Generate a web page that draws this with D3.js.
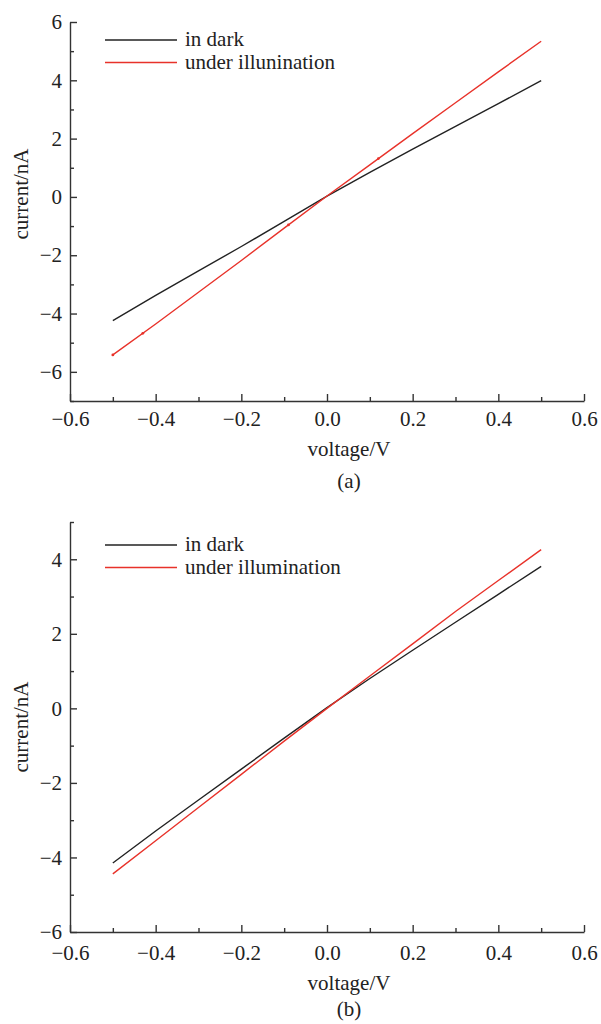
<!DOCTYPE html>
<html>
<head>
<meta charset="utf-8">
<script src="https://cdn.jsdelivr.net/npm/d3@7"></script>
<style>
  body { margin: 0; background: #fff; }
  svg text { font-family: "Liberation Serif", "Times New Roman", serif; fill: #222; }
</style>
</head>
<body>
<svg id="chart" width="601" height="1024"></svg>
<script>
// sweep voltages (V)
const voltage = [-0.5, -0.4, -0.3, -0.2, -0.1, 0, 0.1, 0.2, 0.3, 0.4, 0.5];
// panel (a) currents (nA)
const darkA  = [-4.24, -3.38, -2.54, -1.70, -0.84, 0.03, 0.84, 1.64, 2.42, 3.20, 3.99];
const lightA = [-5.42, -4.36, -3.27, -2.18, -1.07, 0.03, 1.10, 2.17, 3.23, 4.29, 5.34];
// little spikes on the illuminated curve in (a)
const glitchV = [-0.5, -0.43, -0.09, 0.12];
// panel (b) currents (nA)
const darkB  = [-4.15, -3.29, -2.46, -1.63, -0.80, 0.02, 0.80, 1.56, 2.31, 3.06, 3.81];
const lightB = [-4.44, -3.55, -2.66, -1.77, -0.88, 0.00, 0.87, 1.73, 2.60, 3.43, 4.26];

const xMajor = [-0.6, -0.4, -0.2, 0, 0.2, 0.4, 0.6];
const xMinor = [-0.5, -0.3, -0.1, 0.1, 0.3, 0.5];
const yMajorA = [-6, -4, -2, 0, 2, 4, 6];
const yMinorA = [-7, -5, -3, -1, 1, 3, 5];
const yMajorB = [-6, -4, -2, 0, 2, 4];
const yMinorB = [-5, -3, -1, 1, 3, 5];

const legendNames = ["in dark", "under illunination"];
const legendNamesB = ["in dark", "under illumination"];
const colors = ["#222222", "#e8322a"];

const svg = d3.select("#chart");

function drawPanel(opt) {
  const x = d3.scaleLinear().domain([-0.6, 0.6]).range([70, 584]);
  const y = d3.scaleLinear().domain(opt.yDomain).range([opt.bottom, opt.top]);
  const g = svg.append("g");

  // minor ticks first
  g.append("g")
    .attr("transform", `translate(0,${opt.bottom})`)
    .call(d3.axisBottom(x).tickValues(xMinor).tickSize(-4).tickFormat(""))
    .call(s => s.select(".domain").remove());
  g.append("g")
    .attr("transform", "translate(70,0)")
    .call(d3.axisLeft(y).tickValues(opt.yMinor).tickSize(-4).tickFormat(""))
    .call(s => s.select(".domain").remove());

  const xa = g.append("g")
    .attr("transform", `translate(0,${opt.bottom})`)
    .call(d3.axisBottom(x).tickValues(xMajor).tickSizeInner(-7).tickSizeOuter(0)
      .tickPadding(opt.xPad).tickFormat(d3.format(".1f")));
  const ya = g.append("g")
    .attr("transform", "translate(70,0)")
    .call(d3.axisLeft(y).tickValues(opt.yMajor).tickSizeInner(-7).tickSizeOuter(0)
      .tickPadding(8).tickFormat(d3.format("d")));

  [xa, ya].forEach(a => {
    a.selectAll("text").style("font-family", '"Liberation Serif", serif')
      .style("font-size", "21px").attr("fill", "#222");
    a.selectAll("path, line").attr("stroke", "#333").attr("stroke-width", 1.4);
  });
  g.selectAll("line").attr("stroke", "#333").attr("stroke-width", 1.4);

  const line = d3.line().x((d, i) => x(voltage[i])).y(d => y(d));
  opt.series.forEach((s, k) => {
    g.append("path").datum(s)
      .attr("fill", "none")
      .attr("stroke", colors[k])
      .attr("stroke-width", 1.4)
      .attr("d", line);
  });

  if (opt.glitch) {
    const interp = d3.scaleLinear().domain(voltage).range(opt.series[1]);
    g.selectAll("circle.gl").data(opt.glitch).join("circle")
      .attr("cx", d => x(d)).attr("cy", d => y(interp(d)))
      .attr("r", 1.4).attr("fill", colors[1]);
  }

  // legend
  opt.names.forEach((n, k) => {
    const ly = opt.legendY + k * 22.5;
    g.append("line").attr("x1", 105).attr("x2", 177).attr("y1", ly).attr("y2", ly)
      .attr("stroke", colors[k]).attr("stroke-width", 1.4);
    g.append("text").attr("x", 185).attr("y", ly + 6).style("font-size", "21px").text(n);
  });

  g.append("text").attr("x", 349).attr("y", opt.bottom + opt.titleOff)
    .attr("text-anchor", "middle").style("font-size", "21px").text("voltage/V");
  g.append("text").attr("x", 349).attr("y", opt.bottom + opt.tagOff)
    .attr("text-anchor", "middle").style("font-size", "21px").text(opt.tag);
  g.append("text")
    .attr("transform", `translate(28,${opt.yTitle}) rotate(-90)`)
    .attr("text-anchor", "middle").style("font-size", "21px").text("current/nA");
}

drawPanel({
  yDomain: [-7, 6], top: 22, bottom: 401,
  yMajor: yMajorA, yMinor: yMinorA,
  series: [darkA, lightA], glitch: glitchV,
  names: legendNames, legendY: 40,
  xPad: 10, titleOff: 55, tagOff: 87, tag: "(a)", yTitle: 194
});

drawPanel({
  yDomain: [-6, 5], top: 522, bottom: 932,
  yMajor: yMajorB, yMinor: yMinorB,
  series: [darkB, lightB],
  names: legendNamesB, legendY: 545,
  xPad: 13, titleOff: 58, tagOff: 84, tag: "(b)", yTitle: 727
});
</script>
</body>
</html>
